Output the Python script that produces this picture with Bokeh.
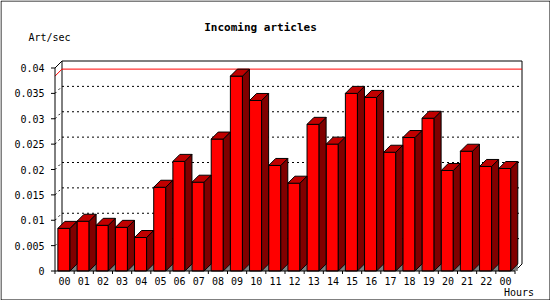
from bokeh.plotting import figure
from bokeh.models import Range1d
from bokeh.core.properties import value
from bokeh.embed import file_html
from bokeh.resources import INLINE

# ---------------- data ----------------
HOURS = ["00", "01", "02", "03", "04", "05", "06", "07", "08", "09", "10", "11",
         "12", "13", "14", "15", "16", "17", "18", "19", "20", "21", "22", "00"]
RATE = [0.0084, 0.0098, 0.0090, 0.0086, 0.0066, 0.0165, 0.0216, 0.0175,
        0.0260, 0.0384, 0.0336, 0.0208, 0.0173, 0.0289, 0.0250, 0.0350,
        0.0342, 0.0234, 0.0263, 0.0301, 0.0198, 0.0236, 0.0206, 0.0202]
Y_TICKS = [0, 0.005, 0.01, 0.015, 0.02, 0.025, 0.03, 0.035, 0.04]
Y_LABELS = ["0", "0.005", "0.01", "0.015", "0.02", "0.025", "0.03", "0.035", "0.04"]
TITLE = "Incoming articles"
Y_TITLE = "Art/sec"
X_TITLE = "Hours"

# ---------------- geometry / style ----------------
W, H = 550, 300
X0_PX, Y0_PX = 54.5, 270.5    # pixel position of data origin
N = len(HOURS)
YMAX = Y_TICKS[-1]
SX = 460.0 / N                # px per slot
SY = 203.0 / YMAX             # px per unit
DX = 7.0 / SX                 # 3D depth in data units
DY = 7.0 / SY
BL, BR = 0.15, 0.78           # bar front face within slot

FONT = value("DejaVu Sans Mono")
FRONT, SIDE, TOP, SHADOW = "#ff0000", "#800000", "#c00000", "#808080"
DOT = "2 3"


def px_x(px):
    return (px - X0_PX) / SX


def px_y(py):
    return (Y0_PX - py) / SY


p = figure(width=W, height=H, output_backend="svg", toolbar_location=None,
           x_axis_location=None, y_axis_location=None,
           x_range=Range1d(px_x(0), px_x(W)),
           y_range=Range1d(px_y(H), px_y(0)),
           min_border=0)
p.xgrid.visible = False
p.ygrid.visible = False
p.background_fill_color = "white"
p.border_fill_color = "white"
p.outline_line_color = None

# outer border of the image
p.quad(left=[px_x(0.5)], right=[px_x(W - 0.5)], bottom=[px_y(H - 0.5)], top=[px_y(0.5)],
       fill_color=None, line_color="black", line_width=1)

# ---------------- back wall and grid ----------------
grid_vals = Y_TICKS[1:-1]
p.segment(x0=[DX] * len(grid_vals), y0=[v + DY for v in grid_vals],
          x1=[N + DX] * len(grid_vals), y1=[v + DY for v in grid_vals],
          line_color="black", line_width=1, line_dash=DOT)
p.segment(x0=[0] * len(grid_vals), y0=grid_vals,
          x1=[DX] * len(grid_vals), y1=[v + DY for v in grid_vals],
          line_color="black", line_width=1, line_dash=DOT)
p.line([DX, DX, N + DX, N + DX], [DY, YMAX + DY, YMAX + DY, DY], line_color="black", line_width=1)
p.segment(x0=[0, N], y0=[YMAX, 0], x1=[DX, N + DX], y1=[YMAX + DY, DY],
          line_color="black", line_width=1)

# max line
m = max(RATE)
p.line([0, DX, N + DX], [m, m + DY, m + DY], line_color="red", line_width=1)

# ---------------- bars ----------------
lefts = [i + BL for i in range(N)]
rights = [i + BR for i in range(N)]
p.patches(xs=[[r, r + DX, r + DX] for r in rights],
          ys=[[0, DY, 0] for _ in rights],
          fill_color=SHADOW, line_color=None)
p.quad(left=lefts, right=rights, bottom=[0] * N, top=RATE,
       fill_color=FRONT, line_color="black", line_width=1)
p.patches(xs=[[r, r + DX, r + DX, r] for r in rights],
          ys=[[0, DY, v + DY, v] for v in RATE],
          fill_color=SIDE, line_color="black", line_width=1)
p.patches(xs=[[l, r, r + DX, l + DX] for l, r in zip(lefts, rights)],
          ys=[[v, v, v + DY, v + DY] for v in RATE],
          fill_color=TOP, line_color="black", line_width=1)

# ---------------- axes ----------------
# x axis
p.segment(x0=[0], y0=[0], x1=[N], y1=[0], line_color="black", line_width=1)
p.segment(x0=list(range(N + 1)), y0=[0] * (N + 1),
          x1=list(range(N + 1)), y1=[-3 / SY] * (N + 1), line_color="black", line_width=1)
p.text(x=[i + 0.5 for i in range(N)], y=[px_y(280)] * N, text=HOURS,
       text_align="center", text_baseline="alphabetic", text_font=FONT,
       text_font_size="10px", text_color="black")
# y axis
p.segment(x0=[0], y0=[0], x1=[0], y1=[YMAX], line_color="black", line_width=1)
p.segment(x0=[-4 / SX] * len(Y_TICKS), y0=Y_TICKS, x1=[0] * len(Y_TICKS), y1=Y_TICKS,
          line_color="black", line_width=1)
p.text(x=[px_x(44)] * len(Y_TICKS), y=Y_TICKS, text=Y_LABELS,
       text_align="right", text_baseline="middle", text_font=FONT,
       text_font_size="10px", text_color="black")

# ---------------- titles ----------------
p.text(x=[px_x(260)], y=[px_y(27)], text=[TITLE], text_align="center",
       text_baseline="alphabetic", text_font=FONT, text_font_style="bold",
       text_font_size="11px", text_color="black")
p.text(x=[px_x(28)], y=[px_y(36.5)], text=[Y_TITLE], text_align="left",
       text_baseline="alphabetic", text_font=FONT,
       text_font_size="10px", text_color="black")
p.text(x=[px_x(503.5)], y=[px_y(291.5)], text=[X_TITLE], text_align="left",
       text_baseline="alphabetic", text_font=FONT,
       text_font_size="10px", text_color="black")

open("out.html", "w").write(file_html(p, INLINE))
